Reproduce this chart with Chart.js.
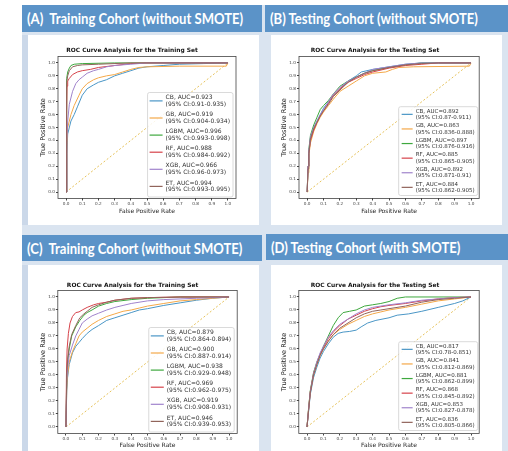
<!DOCTYPE html>
<html>
<head>
<meta charset="utf-8">
<script src="https://cdn.jsdelivr.net/npm/chart.js@4.4.1/dist/chart.umd.min.js"></script>
<style>
  html, body { margin: 0; padding: 0; background: #ffffff; }
  #page { position: relative; width: 508px; height: 451px; overflow: hidden; }
  .bg { position: absolute; left: 22px; top: 5px; right: 0; bottom: 0; background: #dae4f0; }
  .strip { position: absolute; background: #cbd8e9; }
  .head {
    position: absolute; background: #5b93c8; color: #ffffff;
    font-family: Lato, "Open Sans", sans-serif; font-weight: 700; font-size: 14.5px;
    white-space: pre; box-sizing: border-box; padding-left: 5px;
    display: flex; align-items: center; overflow: hidden;
  }
  .head span { display: inline-block; transform: scaleX(0.9); transform-origin: left center; }
  .panel { position: absolute; background: #ffffff; }
  .panel canvas { display: block; }
</style>
</head>
<body>
<div id="page">
  <div class="bg"></div>
  <div class="strip" style="left:22px;top:35px;width:6px;height:190px"></div>
  <div class="strip" style="left:22px;top:265px;width:6px;height:186px"></div>
  <div class="head" style="left:22px;top:5px;width:240px;height:27px"><span id="hA"></span></div>
  <div class="head" style="left:265px;top:5px;width:243px;height:27px"><span id="hB"></span></div>
  <div class="head" style="left:22px;top:235px;width:240px;height:26px"><span id="hC"></span></div>
  <div class="head" style="left:266px;top:234px;width:242px;height:26px"><span id="hD"></span></div>
  <div class="panel" style="left:28px;top:35px;width:231px;height:190px"><canvas id="chartA" width="231" height="190"></canvas></div>
  <div class="panel" style="left:271px;top:35px;width:231px;height:190px"><canvas id="chartB" width="231" height="190"></canvas></div>
  <div class="panel" style="left:28px;top:265px;width:231px;height:186px"><canvas id="chartC" width="231" height="186"></canvas></div>
  <div class="panel" style="left:271px;top:265px;width:231px;height:186px"><canvas id="chartD" width="231" height="186"></canvas></div>
</div>
<script>
// Labels
const panelHeaders = [
  '(A)  Training Cohort (without SMOTE)',
  '(B) Testing Cohort (without SMOTE)',
  '(C)  Training Cohort (without SMOTE)',
  '(D) Testing Cohort (with SMOTE)'
];
const chartTitles = [
  'ROC Curve Analysis for the Training Set',
  'ROC Curve Analysis for the Testing Set',
  'ROC Curve Analysis for the Training Set',
  'ROC Curve Analysis for the Testing Set'
];
const models = ['CB', 'GB', 'LGBM', 'RF', 'XGB', 'ET'];
const axisTicks = [0, 0.1, 0.2, 0.3, 0.4, 0.5, 0.6, 0.7, 0.8, 0.9, 1.0];

// AUC and confidence intervals per panel
const aucA = ['0.923', '0.919', '0.996', '0.988', '0.966', '0.994'];
const ciA = ['0.91-0.935', '0.904-0.934', '0.993-0.998', '0.984-0.992', '0.96-0.973', '0.993-0.995'];
const aucB = ['0.892', '0.863', '0.897', '0.885', '0.892', '0.884'];
const ciB = ['0.87-0.911', '0.836-0.888', '0.876-0.916', '0.865-0.905', '0.871-0.91', '0.862-0.905'];
const aucC = ['0.879', '0.900', '0.938', '0.969', '0.919', '0.946'];
const ciC = ['0.864-0.894', '0.887-0.914', '0.929-0.948', '0.962-0.975', '0.908-0.931', '0.939-0.953'];
const aucD = ['0.817', '0.841', '0.881', '0.868', '0.853', '0.836'];
const ciD = ['0.78-0.851', '0.812-0.869', '0.862-0.899', '0.845-0.892', '0.827-0.878', '0.805-0.866'];

// ROC points [fpr, tpr] - panel A
const A_CB = [[0,0],[0.005,0.3],[0.01,0.45],[0.03,0.55],[0.05,0.6],[0.07,0.66],[0.1,0.75],[0.13,0.8],[0.17,0.83],[0.2,0.85],[0.25,0.87],[0.3,0.9],[0.35,0.92],[0.4,0.94],[0.45,0.96],[0.5,0.97],[0.6,0.98],[0.7,0.99],[0.85,0.995],[1,1]];
const A_GB = [[0,0],[0.005,0.35],[0.01,0.5],[0.03,0.6],[0.05,0.67],[0.08,0.75],[0.1,0.8],[0.13,0.84],[0.17,0.87],[0.2,0.885],[0.25,0.9],[0.3,0.91],[0.35,0.93],[0.4,0.95],[0.45,0.965],[0.5,0.97],[0.7,0.975],[0.99,0.975],[1,1]];
const A_LGBM = [[0,0],[0.002,0.7],[0.005,0.88],[0.01,0.93],[0.02,0.96],[0.03,0.98],[0.05,0.99],[0.1,0.995],[0.3,1],[1,1]];
const A_RF = [[0,0],[0.003,0.6],[0.006,0.82],[0.01,0.86],[0.02,0.88],[0.04,0.91],[0.07,0.93],[0.1,0.94],[0.15,0.95],[0.2,0.965],[0.3,0.98],[0.4,0.995],[0.5,1],[1,1]];
const A_XGB = [[0,0],[0.005,0.4],[0.01,0.55],[0.02,0.68],[0.04,0.78],[0.06,0.84],[0.08,0.87],[0.1,0.89],[0.13,0.92],[0.17,0.94],[0.2,0.95],[0.25,0.97],[0.3,0.98],[0.4,0.99],[0.5,1],[1,1]];
const A_ET = [[0,0],[0.002,0.6],[0.005,0.85],[0.01,0.9],[0.02,0.94],[0.04,0.97],[0.07,0.98],[0.1,0.985],[0.2,0.99],[0.4,1],[1,1]];

// panel B
const B_CB = [[0,0],[0.005,0.2],[0.01,0.3],[0.02,0.42],[0.04,0.5],[0.06,0.55],[0.08,0.6],[0.1,0.65],[0.13,0.7],[0.16,0.75],[0.2,0.8],[0.25,0.86],[0.3,0.9],[0.33,0.93],[0.4,0.95],[0.5,0.97],[0.6,0.99],[0.7,1],[1,1]];
const B_GB = [[0,0],[0.005,0.15],[0.01,0.28],[0.02,0.38],[0.04,0.47],[0.06,0.53],[0.08,0.58],[0.1,0.62],[0.13,0.67],[0.16,0.72],[0.2,0.78],[0.25,0.82],[0.3,0.86],[0.35,0.9],[0.4,0.92],[0.48,0.93],[0.52,0.95],[0.56,0.965],[0.65,0.97],[0.99,0.975],[1,1]];
const B_LGBM = [[0,0],[0.005,0.2],[0.01,0.33],[0.02,0.44],[0.04,0.52],[0.06,0.58],[0.08,0.64],[0.1,0.67],[0.13,0.71],[0.16,0.76],[0.2,0.82],[0.25,0.86],[0.3,0.89],[0.35,0.92],[0.4,0.94],[0.5,0.965],[0.6,0.985],[0.7,1],[1,1]];
const B_RF = [[0,0],[0.005,0.2],[0.01,0.3],[0.02,0.4],[0.04,0.48],[0.06,0.54],[0.08,0.59],[0.1,0.63],[0.13,0.69],[0.16,0.75],[0.2,0.8],[0.25,0.85],[0.3,0.88],[0.35,0.91],[0.4,0.93],[0.5,0.96],[0.6,0.98],[0.7,0.99],[0.8,1],[1,1]];
const B_XGB = [[0,0],[0.005,0.2],[0.01,0.32],[0.02,0.43],[0.04,0.5],[0.06,0.55],[0.08,0.6],[0.1,0.64],[0.13,0.7],[0.16,0.76],[0.2,0.81],[0.25,0.86],[0.3,0.89],[0.35,0.92],[0.4,0.95],[0.5,0.97],[0.6,0.99],[0.7,1],[1,1]];
const B_ET = [[0,0],[0.005,0.18],[0.01,0.3],[0.02,0.41],[0.04,0.49],[0.06,0.54],[0.08,0.59],[0.1,0.63],[0.13,0.68],[0.16,0.74],[0.2,0.79],[0.25,0.85],[0.3,0.89],[0.35,0.92],[0.4,0.94],[0.5,0.965],[0.6,0.985],[0.7,0.995],[0.8,1],[1,1]];

// panel C
const C_CB = [[0,0],[0.005,0.28],[0.01,0.38],[0.02,0.48],[0.04,0.57],[0.06,0.62],[0.08,0.65],[0.1,0.68],[0.13,0.72],[0.16,0.75],[0.2,0.78],[0.25,0.82],[0.3,0.84],[0.35,0.86],[0.4,0.88],[0.45,0.9],[0.5,0.91],[0.6,0.935],[0.7,0.955],[0.8,0.975],[0.9,0.99],[1,1]];
const C_GB = [[0,0],[0.005,0.3],[0.01,0.4],[0.02,0.5],[0.04,0.58],[0.06,0.64],[0.08,0.7],[0.1,0.73],[0.13,0.76],[0.16,0.79],[0.2,0.82],[0.25,0.85],[0.3,0.87],[0.35,0.89],[0.4,0.9],[0.45,0.915],[0.5,0.93],[0.6,0.95],[0.7,0.97],[0.8,0.98],[0.9,0.99],[1,1]];
const C_LGBM = [[0,0],[0.005,0.4],[0.01,0.5],[0.02,0.6],[0.035,0.7],[0.06,0.77],[0.085,0.82],[0.11,0.86],[0.13,0.88],[0.16,0.9],[0.2,0.93],[0.25,0.95],[0.3,0.965],[0.4,0.98],[0.5,0.99],[0.7,1],[1,1]];
const C_RF = [[0,0],[0.003,0.4],[0.007,0.6],[0.015,0.72],[0.025,0.8],[0.04,0.85],[0.06,0.88],[0.08,0.885],[0.1,0.9],[0.13,0.92],[0.17,0.94],[0.2,0.95],[0.25,0.96],[0.3,0.975],[0.4,0.99],[0.5,0.995],[0.7,1],[1,1]];
const C_XGB = [[0,0],[0.005,0.35],[0.01,0.45],[0.02,0.55],[0.04,0.63],[0.06,0.7],[0.08,0.75],[0.1,0.8],[0.13,0.83],[0.16,0.855],[0.2,0.875],[0.25,0.9],[0.3,0.92],[0.35,0.935],[0.4,0.95],[0.5,0.97],[0.6,0.98],[0.8,0.99],[1,1]];
const C_ET = [[0,0],[0.005,0.42],[0.01,0.52],[0.02,0.62],[0.035,0.71],[0.06,0.78],[0.085,0.84],[0.11,0.87],[0.13,0.89],[0.16,0.92],[0.2,0.94],[0.25,0.96],[0.3,0.975],[0.4,0.99],[0.5,0.995],[0.7,1],[1,1]];

// panel D
const D_CB = [[0,0],[0.01,0.12],[0.02,0.25],[0.04,0.38],[0.06,0.46],[0.08,0.53],[0.1,0.58],[0.13,0.64],[0.16,0.69],[0.19,0.72],[0.22,0.73],[0.26,0.735],[0.3,0.745],[0.33,0.77],[0.37,0.8],[0.42,0.82],[0.5,0.84],[0.55,0.86],[0.62,0.87],[0.7,0.89],[0.8,0.92],[0.9,0.95],[0.95,0.97],[1,1]];
const D_GB = [[0,0],[0.01,0.14],[0.02,0.27],[0.04,0.4],[0.06,0.48],[0.08,0.55],[0.1,0.6],[0.13,0.66],[0.16,0.71],[0.2,0.75],[0.25,0.79],[0.3,0.82],[0.35,0.85],[0.4,0.87],[0.45,0.885],[0.5,0.9],[0.6,0.92],[0.7,0.945],[0.8,0.97],[0.9,0.985],[1,1]];
const D_LGBM = [[0,0],[0.01,0.15],[0.02,0.28],[0.04,0.42],[0.06,0.5],[0.08,0.56],[0.1,0.62],[0.13,0.7],[0.16,0.78],[0.19,0.84],[0.22,0.88],[0.26,0.89],[0.3,0.9],[0.35,0.93],[0.4,0.94],[0.45,0.95],[0.5,0.965],[0.55,0.99],[0.6,1],[1,1]];
const D_RF = [[0,0],[0.01,0.14],[0.02,0.27],[0.04,0.41],[0.06,0.49],[0.08,0.56],[0.1,0.61],[0.13,0.68],[0.16,0.73],[0.2,0.78],[0.25,0.83],[0.3,0.86],[0.35,0.89],[0.4,0.91],[0.45,0.925],[0.5,0.935],[0.6,0.95],[0.7,0.97],[0.8,0.985],[0.9,0.995],[1,1]];
const D_XGB = [[0,0],[0.01,0.14],[0.02,0.27],[0.04,0.41],[0.06,0.5],[0.08,0.57],[0.1,0.62],[0.13,0.69],[0.16,0.74],[0.2,0.79],[0.25,0.83],[0.3,0.87],[0.35,0.9],[0.4,0.92],[0.45,0.93],[0.5,0.94],[0.6,0.955],[0.7,0.975],[0.8,0.985],[0.9,0.995],[1,1]];
const D_ET = [[0,0],[0.01,0.13],[0.02,0.26],[0.04,0.4],[0.06,0.48],[0.08,0.55],[0.1,0.6],[0.13,0.66],[0.16,0.71],[0.2,0.76],[0.25,0.8],[0.3,0.84],[0.35,0.87],[0.4,0.89],[0.45,0.9],[0.5,0.91],[0.6,0.93],[0.7,0.96],[0.8,0.98],[0.9,0.99],[1,1]];

const chanceLine = [[0,0],[1,1]];

const modelColors = ['#4a96c6', '#f4a848', '#3ea83e', '#d6424a', '#a083cc', '#91645b'];
const FONT = '"DejaVu Sans", sans-serif';

// matplotlib-like axes frame
const axesFrame = {
  id: 'axesFrame',
  afterDraw(chart) {
    const { ctx, chartArea: a } = chart;
    ctx.save();
    ctx.strokeStyle = '#444';
    ctx.lineWidth = 0.8;
    ctx.strokeRect(a.left, a.top, a.right - a.left, a.bottom - a.top);
    ctx.restore();
  }
};

// two-line legend in the lower right corner
const rocLegend = {
  id: 'rocLegend',
  afterDatasetsDraw(chart, args, opts) {
    const { ctx, chartArea: a } = chart;
    const items = chart.data.datasets.filter(d => !d.hideInLegend);
    ctx.save();
    ctx.font = opts.size + 'px ' + FONT;
    let textW = 0;
    items.forEach(d => d.label.split('\n').forEach(t => {
      textW = Math.max(textW, ctx.measureText(t).width);
    }));
    const w = opts.textX + textW + 3;
    const h = opts.padTop + opts.rowGap * (items.length - 1) + opts.lineGap + opts.padBottom;
    const x = a.right - opts.right - w;
    const y = a.bottom - opts.bottom - h;
    ctx.fillStyle = 'rgba(255,255,255,0.85)';
    ctx.strokeStyle = '#d0d0d0';
    ctx.lineWidth = 0.8;
    ctx.beginPath();
    ctx.roundRect(x, y, w, h, 2);
    ctx.fill();
    ctx.stroke();
    ctx.textBaseline = 'middle';
    ctx.fillStyle = '#333';
    items.forEach((d, i) => {
      const ty = y + opts.padTop + i * opts.rowGap;
      const lines = d.label.split('\n');
      ctx.fillText(lines[0], x + opts.textX, ty);
      ctx.fillText(lines[1], x + opts.textX, ty + opts.lineGap);
      ctx.strokeStyle = d.borderColor;
      ctx.lineWidth = 1.2;
      ctx.beginPath();
      ctx.moveTo(x + opts.handleX, ty + opts.lineGap / 2);
      ctx.lineTo(x + opts.handleX + opts.handleLen, ty + opts.lineGap / 2);
      ctx.stroke();
    });
    ctx.restore();
  }
};

function createRocChart(id, title, curves, aucs, cis, geo) {
  const ctx = document.getElementById(id).getContext('2d');
  const datasets = curves.map((pts, i) => ({
    label: models[i] + ', AUC=' + aucs[i] + '\n(95% CI:' + cis[i] + ')',
    data: pts.map(p => ({ x: p[0], y: p[1] })),
    borderColor: modelColors[i],
    borderWidth: 1,
    pointRadius: 0,
    tension: 0,
    order: curves.length - i
  }));
  datasets.push({
    label: 'chance',
    hideInLegend: true,
    data: chanceLine.map(p => ({ x: p[0], y: p[1] })),
    borderColor: '#e6c25a',
    borderWidth: 1,
    borderDash: [2, 2],
    pointRadius: 0,
    order: 20
  });
  const tickOpts = {
    color: '#444',
    font: { family: FONT, size: 4.2 },
    padding: 1,
    callback: v => v.toFixed(1)
  };
  const setTicks = scale => { scale.ticks = axisTicks.map(v => ({ value: v })); };
  return new Chart(ctx, {
    type: 'line',
    data: { datasets },
    options: {
      responsive: false,
      animation: false,
      devicePixelRatio: 1,
      layout: { padding: { left: 0, right: geo.padRight, top: 0, bottom: 0 } },
      plugins: {
        legend: { display: false },
        tooltip: { enabled: false },
        title: {
          display: true,
          text: title,
          color: '#111',
          font: { family: FONT, size: 5.9, weight: 'bold', lineHeight: 1.2 },
          padding: { top: geo.titleTop, bottom: geo.titleBottom }
        },
        rocLegend: geo.legend
      },
      scales: {
        x: {
          type: 'linear',
          min: -0.05,
          max: 1.05,
          afterBuildTicks: setTicks,
          afterFit: s => { s.height = geo.xAxisH; },
          ticks: tickOpts,
          grid: { display: true, drawOnChartArea: false, drawTicks: true, tickLength: 2, tickColor: '#444' },
          border: { display: false },
          title: {
            display: true, text: 'False Positive Rate', color: '#222',
            font: { family: FONT, size: 6, lineHeight: 1.2 },
            padding: { top: 0, bottom: geo.xTitleBottom }
          }
        },
        y: {
          type: 'linear',
          min: -0.05,
          max: 1.05,
          afterBuildTicks: setTicks,
          afterFit: s => { s.width = geo.yAxisW; },
          ticks: tickOpts,
          grid: { display: true, drawOnChartArea: false, drawTicks: true, tickLength: 2, tickColor: '#444' },
          border: { display: false },
          title: {
            display: true, text: 'True Positive Rate', color: '#222',
            font: { family: FONT, size: 6.6, lineHeight: 1.2 },
            padding: { top: geo.yTitleLeft, bottom: 0 }
          }
        }
      }
    },
    plugins: [axesFrame, rocLegend]
  });
}

const bigLegend = { size: 6, padTop: 5, rowGap: 17.1, lineGap: 6.8, padBottom: 7.2, handleX: 2, handleLen: 13, textX: 18, right: 3, bottom: 1.5 };
const smallLegend = { size: 5.5, padTop: 4.5, rowGap: 14.6, lineGap: 6.3, padBottom: 5, handleX: 3, handleLen: 11, textX: 17, right: 1.5, bottom: 3 };

['hA', 'hB', 'hC', 'hD'].forEach((id, i) => { document.getElementById(id).textContent = panelHeaders[i]; });

createRocChart('chartA', chartTitles[0], [A_CB, A_GB, A_LGBM, A_RF, A_XGB, A_ET], aucA, ciA,
  { padRight: 23, yAxisW: 30, xAxisH: 26.5, titleTop: 12.3, titleBottom: 2.1, xTitleBottom: 10.4, yTitleLeft: 11, legend: bigLegend });
createRocChart('chartB', chartTitles[1], [B_CB, B_GB, B_LGBM, B_RF, B_XGB, B_ET], aucB, ciB,
  { padRight: 22.8, yAxisW: 28, xAxisH: 26.5, titleTop: 12.3, titleBottom: 2.1, xTitleBottom: 10.4, yTitleLeft: 9.7, legend: smallLegend });
createRocChart('chartC', chartTitles[2], [C_CB, C_GB, C_LGBM, C_RF, C_XGB, C_ET], aucC, ciC,
  { padRight: 21.8, yAxisW: 29.8, xAxisH: 17.5, titleTop: 16.9, titleBottom: 1.5, xTitleBottom: 2.4, yTitleLeft: 11, legend: bigLegend });
createRocChart('chartD', chartTitles[3], [D_CB, D_GB, D_LGBM, D_RF, D_XGB, D_ET], aucD, ciD,
  { padRight: 22.8, yAxisW: 27.8, xAxisH: 17.5, titleTop: 16.9, titleBottom: 1.5, xTitleBottom: 2.4, yTitleLeft: 9.7, legend: smallLegend });
</script>
</body>
</html>
